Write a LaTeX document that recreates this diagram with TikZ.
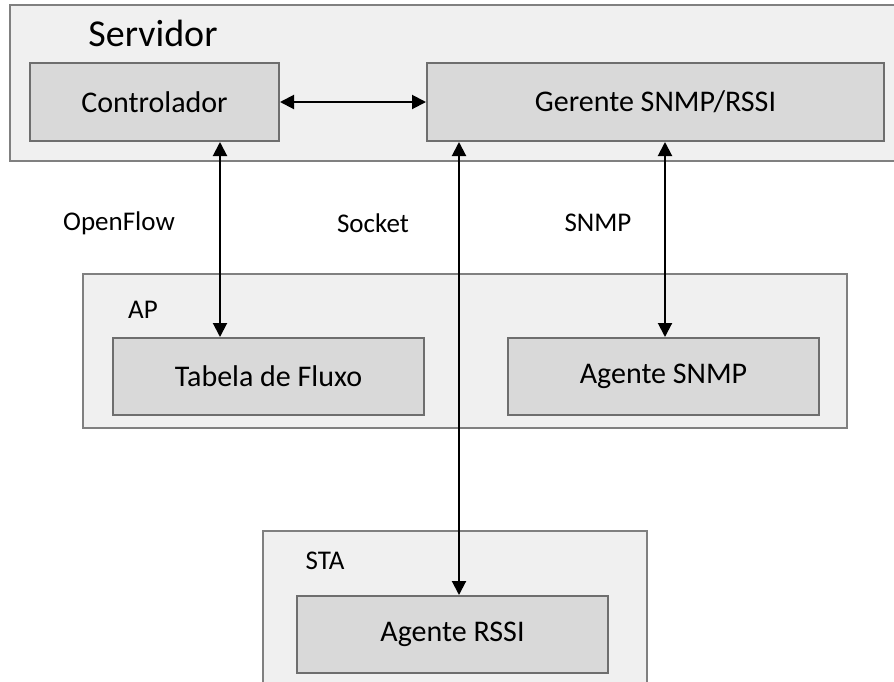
\documentclass[tikz,border=0pt]{standalone}
\usepackage{fontspec}
\setmainfont{Carlito}
\usetikzlibrary{arrows.meta}
\definecolor{outerfill}{HTML}{F0F0F0}
\definecolor{outerline}{HTML}{808080}
\definecolor{innerfill}{HTML}{D9D9D9}
\definecolor{innerline}{HTML}{6E6E6E}
\tikzset{
  groupbox/.style={draw=outerline, fill=outerfill, line width=2pt, rectangle, inner sep=0pt},
  compbox/.style={draw=innerline, fill=innerfill, line width=2pt, rectangle, inner sep=0pt,
    font=\fontsize{30}{36}\selectfont},
  grouplabel/.style={inner sep=0pt, font=\fontsize{27}{32}\selectfont},
  linklabel/.style={inner sep=0pt, font=\fontsize{27}{32}\selectfont},
  link/.style={line width=2pt, {Triangle[width=14pt,length=14pt]}-{Triangle[width=14pt,length=14pt]}}
}
\begin{document}
\begin{tikzpicture}[x=1pt,y=-1pt]
\useasboundingbox (0,0) rectangle (894,681);
\clip (0,0) rectangle (894,681);
\fill[white] (0,0) rectangle (894,681);

% group containers
\node[groupbox, minimum width=890pt, minimum height=156pt] (srv) at (455,83) {};
\node[groupbox, minimum width=764pt, minimum height=154pt] (ap) at (465,351) {};
\node[groupbox, minimum width=384pt, minimum height=169pt] (sta) at (455,615.5) {};

% group titles
\node[inner sep=0pt, font=\fontsize{38}{44}\selectfont] (srvlbl) at (153,33) {Servidor};
\node[grouplabel] (aplbl) at (143,310) {AP};
\node[grouplabel] (stalbl) at (325,561) {STA};

% components
\node[compbox, minimum width=249pt, minimum height=78pt] (ctrl) at (154.5,102) {Controlador};
\node[compbox, minimum width=457pt, minimum height=78pt] (ger) at (655.5,102) {Gerente SNMP/RSSI};
\node[compbox, minimum width=311pt, minimum height=77pt] (tab) at (268.5,376.5) {Tabela de Fluxo};
\node[compbox, minimum width=311pt, minimum height=77pt] (snmp) at (663.5,376.5) {Agente SNMP};
\node[compbox, minimum width=311pt, minimum height=77pt] (rssi) at (452.5,634.5) {Agente RSSI};

% connections
\draw[link] (ctrl.east) -- (ger.west);
\draw[link] ([xshift=65.5pt]ctrl.south) -- ([xshift=65.5pt]ctrl.south |- tab.north);
\draw[link] ([xshift=-196.5pt]ger.south) -- ([xshift=-196.5pt]ger.south |- rssi.north);
\draw[link] ([xshift=9.5pt]ger.south) -- ([xshift=9.5pt]ger.south |- snmp.north);

% protocol labels
\node[linklabel] (lof) at (119,223) {OpenFlow};
\node[linklabel] (lsock) at (373,223) {Socket};
\node[linklabel] (lsnmp) at (598,223) {SNMP};
\end{tikzpicture}
\end{document}
